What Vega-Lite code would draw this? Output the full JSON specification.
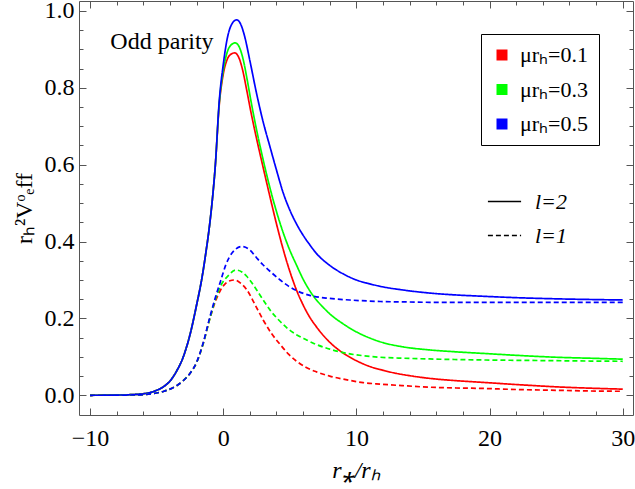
{
  "$schema": "https://vega.github.io/schema/vega-lite/v6.json",
  "width": 554,
  "height": 414,
  "autosize": {"type": "none"},
  "padding": {"left": 79, "top": 1, "right": 2, "bottom": 74},
  "background": "white",
  "config": {
    "font": "Liberation Serif",
    "view": {"stroke": "#555", "strokeWidth": 1},
    "axis": {"domain": false, "grid": false, "tickColor": "#555", "tickWidth": 1, "labelColor": "black", "labelFont": "Liberation Serif", "titleFont": "Liberation Serif", "titleColor": "black", "titleFontWeight": "normal"}
  },
  "datasets": {
    "curves": [
      {"m":"0.1","l":"2","x":-10,"y":0},{"m":"0.1","l":"2","x":-9,"y":0.0002},{"m":"0.1","l":"2","x":-8,"y":0.0006},{"m":"0.1","l":"2","x":-7,"y":0.0015},{"m":"0.1","l":"2","x":-6,"y":0.004},{"m":"0.1","l":"2","x":-5.5,"y":0.007},{"m":"0.1","l":"2","x":-5,"y":0.013},{"m":"0.1","l":"2","x":-4.5,"y":0.022},{"m":"0.1","l":"2","x":-4,"y":0.037},{"m":"0.1","l":"2","x":-3.5,"y":0.063},{"m":"0.1","l":"2","x":-3,"y":0.1},{"m":"0.1","l":"2","x":-2.5,"y":0.157},{"m":"0.1","l":"2","x":-2,"y":0.235},{"m":"0.1","l":"2","x":-1.6,"y":0.305},{"m":"0.1","l":"2","x":-1.3,"y":0.372},{"m":"0.1","l":"2","x":-1,"y":0.45},{"m":"0.1","l":"2","x":-0.8,"y":0.515},{"m":"0.1","l":"2","x":-0.6,"y":0.595},
      {"m":"0.1","l":"2","x":-0.3,"y":0.755},{"m":"0.1","l":"2","x":0,"y":0.835},{"m":"0.1","l":"2","x":0.3,"y":0.874},{"m":"0.1","l":"2","x":0.6,"y":0.888},{"m":"0.1","l":"2","x":0.85,"y":0.891},{"m":"0.1","l":"2","x":1.15,"y":0.8805},{"m":"0.1","l":"2","x":1.45,"y":0.8475},{"m":"0.1","l":"2","x":1.75,"y":0.7965},{"m":"0.1","l":"2","x":2.1,"y":0.7335},{"m":"0.1","l":"2","x":2.5,"y":0.6685},{"m":"0.1","l":"2","x":3,"y":0.5925},{"m":"0.1","l":"2","x":3.5,"y":0.518},{"m":"0.1","l":"2","x":4,"y":0.446},{"m":"0.1","l":"2","x":4.5,"y":0.38},{"m":"0.1","l":"2","x":5,"y":0.3225},{"m":"0.1","l":"2","x":5.5,"y":0.274},{"m":"0.1","l":"2","x":6,"y":0.235},{"m":"0.1","l":"2","x":6.5,"y":0.203},{"m":"0.1","l":"2","x":7,"y":0.178},{"m":"0.1","l":"2","x":8,"y":0.138},{"m":"0.1","l":"2","x":9,"y":0.11},{"m":"0.1","l":"2","x":10,"y":0.09},{"m":"0.1","l":"2","x":11,"y":0.075},{"m":"0.1","l":"2","x":12,"y":0.065},{"m":"0.1","l":"2","x":13,"y":0.057},{"m":"0.1","l":"2","x":14,"y":0.051},{"m":"0.1","l":"2","x":15.5,"y":0.044},{"m":"0.1","l":"2","x":17.5,"y":0.038},{"m":"0.1","l":"2","x":19.3,"y":0.034},{"m":"0.1","l":"2","x":22,"y":0.028},{"m":"0.1","l":"2","x":25,"y":0.022},{"m":"0.1","l":"2","x":28,"y":0.018},{"m":"0.1","l":"2","x":30,"y":0.016},

      {"m":"0.3","l":"2","x":-10,"y":0},{"m":"0.3","l":"2","x":-9,"y":0.0002},{"m":"0.3","l":"2","x":-8,"y":0.0006},{"m":"0.3","l":"2","x":-7,"y":0.0015},{"m":"0.3","l":"2","x":-6,"y":0.004},{"m":"0.3","l":"2","x":-5.5,"y":0.007},{"m":"0.3","l":"2","x":-5,"y":0.013},{"m":"0.3","l":"2","x":-4.5,"y":0.022},{"m":"0.3","l":"2","x":-4,"y":0.037},{"m":"0.3","l":"2","x":-3.5,"y":0.063},{"m":"0.3","l":"2","x":-3,"y":0.1},{"m":"0.3","l":"2","x":-2.5,"y":0.157},{"m":"0.3","l":"2","x":-2,"y":0.235},{"m":"0.3","l":"2","x":-1.6,"y":0.305},{"m":"0.3","l":"2","x":-1.3,"y":0.372},{"m":"0.3","l":"2","x":-1,"y":0.45},{"m":"0.3","l":"2","x":-0.8,"y":0.515},{"m":"0.3","l":"2","x":-0.6,"y":0.595},
      {"m":"0.3","l":"2","x":-0.3,"y":0.76},{"m":"0.3","l":"2","x":0,"y":0.845},{"m":"0.3","l":"2","x":0.3,"y":0.893},{"m":"0.3","l":"2","x":0.6,"y":0.912},{"m":"0.3","l":"2","x":0.9,"y":0.917},{"m":"0.3","l":"2","x":1.2,"y":0.9065},{"m":"0.3","l":"2","x":1.5,"y":0.8735},{"m":"0.3","l":"2","x":1.8,"y":0.821},{"m":"0.3","l":"2","x":2.1,"y":0.7625},{"m":"0.3","l":"2","x":2.5,"y":0.6915},{"m":"0.3","l":"2","x":3,"y":0.6125},{"m":"0.3","l":"2","x":3.5,"y":0.541},{"m":"0.3","l":"2","x":4,"y":0.478},{"m":"0.3","l":"2","x":4.5,"y":0.4235},{"m":"0.3","l":"2","x":5,"y":0.3775},{"m":"0.3","l":"2","x":5.5,"y":0.339},{"m":"0.3","l":"2","x":6,"y":0.302},{"m":"0.3","l":"2","x":6.5,"y":0.272},{"m":"0.3","l":"2","x":7,"y":0.248},{"m":"0.3","l":"2","x":7.5,"y":0.229},{"m":"0.3","l":"2","x":8,"y":0.212},{"m":"0.3","l":"2","x":9,"y":0.186},{"m":"0.3","l":"2","x":10,"y":0.165},{"m":"0.3","l":"2","x":11,"y":0.149},{"m":"0.3","l":"2","x":12,"y":0.137},{"m":"0.3","l":"2","x":13.5,"y":0.126},{"m":"0.3","l":"2","x":15.5,"y":0.118},{"m":"0.3","l":"2","x":17.5,"y":0.113},{"m":"0.3","l":"2","x":19.5,"y":0.109},{"m":"0.3","l":"2","x":22,"y":0.104},{"m":"0.3","l":"2","x":25,"y":0.099},{"m":"0.3","l":"2","x":28,"y":0.096},{"m":"0.3","l":"2","x":30,"y":0.094},

      {"m":"0.5","l":"2","x":-10,"y":0},{"m":"0.5","l":"2","x":-9,"y":0.0002},{"m":"0.5","l":"2","x":-8,"y":0.0006},{"m":"0.5","l":"2","x":-7,"y":0.0015},{"m":"0.5","l":"2","x":-6,"y":0.004},{"m":"0.5","l":"2","x":-5.5,"y":0.007},{"m":"0.5","l":"2","x":-5,"y":0.013},{"m":"0.5","l":"2","x":-4.5,"y":0.022},{"m":"0.5","l":"2","x":-4,"y":0.037},{"m":"0.5","l":"2","x":-3.5,"y":0.063},{"m":"0.5","l":"2","x":-3,"y":0.1},{"m":"0.5","l":"2","x":-2.5,"y":0.157},{"m":"0.5","l":"2","x":-2,"y":0.235},{"m":"0.5","l":"2","x":-1.6,"y":0.305},{"m":"0.5","l":"2","x":-1.3,"y":0.372},{"m":"0.5","l":"2","x":-1,"y":0.45},{"m":"0.5","l":"2","x":-0.8,"y":0.515},{"m":"0.5","l":"2","x":-0.6,"y":0.595},
      {"m":"0.5","l":"2","x":-0.3,"y":0.765},{"m":"0.5","l":"2","x":0,"y":0.86},{"m":"0.5","l":"2","x":0.3,"y":0.928},{"m":"0.5","l":"2","x":0.6,"y":0.963},{"m":"0.5","l":"2","x":1,"y":0.977},{"m":"0.5","l":"2","x":1.3,"y":0.9665},{"m":"0.5","l":"2","x":1.6,"y":0.935},{"m":"0.5","l":"2","x":2,"y":0.871},{"m":"0.5","l":"2","x":2.5,"y":0.786},{"m":"0.5","l":"2","x":3,"y":0.711},{"m":"0.5","l":"2","x":3.5,"y":0.648},{"m":"0.5","l":"2","x":4,"y":0.586},{"m":"0.5","l":"2","x":4.5,"y":0.527},{"m":"0.5","l":"2","x":5,"y":0.482},{"m":"0.5","l":"2","x":5.5,"y":0.446},{"m":"0.5","l":"2","x":6,"y":0.4165},{"m":"0.5","l":"2","x":6.5,"y":0.3915},{"m":"0.5","l":"2","x":7,"y":0.369},{"m":"0.5","l":"2","x":8,"y":0.338},{"m":"0.5","l":"2","x":9,"y":0.316},{"m":"0.5","l":"2","x":10,"y":0.3},{"m":"0.5","l":"2","x":11,"y":0.29},{"m":"0.5","l":"2","x":12,"y":0.282},{"m":"0.5","l":"2","x":13.5,"y":0.274},{"m":"0.5","l":"2","x":15.5,"y":0.266},{"m":"0.5","l":"2","x":17.5,"y":0.261},{"m":"0.5","l":"2","x":19.3,"y":0.258},{"m":"0.5","l":"2","x":22,"y":0.254},{"m":"0.5","l":"2","x":25,"y":0.251},{"m":"0.5","l":"2","x":28,"y":0.249},{"m":"0.5","l":"2","x":30,"y":0.248},

      {"m":"0.1","l":"1","x":-10,"y":0},{"m":"0.1","l":"1","x":-9,"y":0.0001},{"m":"0.1","l":"1","x":-8,"y":0.0003},{"m":"0.1","l":"1","x":-7,"y":0.0008},{"m":"0.1","l":"1","x":-6,"y":0.002},{"m":"0.1","l":"1","x":-5,"y":0.006},{"m":"0.1","l":"1","x":-4.5,"y":0.01},{"m":"0.1","l":"1","x":-4,"y":0.016},{"m":"0.1","l":"1","x":-3.5,"y":0.025},{"m":"0.1","l":"1","x":-3,"y":0.038},{"m":"0.1","l":"1","x":-2.5,"y":0.057},{"m":"0.1","l":"1","x":-2,"y":0.085},{"m":"0.1","l":"1","x":-1.5,"y":0.135},{"m":"0.1","l":"1","x":-1,"y":0.2},
      {"m":"0.1","l":"1","x":-0.6,"y":0.243},{"m":"0.1","l":"1","x":-0.2,"y":0.274},{"m":"0.1","l":"1","x":0.2,"y":0.292},{"m":"0.1","l":"1","x":0.5,"y":0.298},{"m":"0.1","l":"1","x":0.85,"y":0.3},{"m":"0.1","l":"1","x":1.3,"y":0.292},{"m":"0.1","l":"1","x":1.78,"y":0.274},{"m":"0.1","l":"1","x":2.4,"y":0.235},{"m":"0.1","l":"1","x":3,"y":0.196},{"m":"0.1","l":"1","x":3.6,"y":0.162},{"m":"0.1","l":"1","x":4.28,"y":0.132},{"m":"0.1","l":"1","x":4.9,"y":0.107},{"m":"0.1","l":"1","x":5.53,"y":0.088},{"m":"0.1","l":"1","x":6.2,"y":0.073},{"m":"0.1","l":"1","x":7,"y":0.061},{"m":"0.1","l":"1","x":8,"y":0.05},{"m":"0.1","l":"1","x":9.3,"y":0.04},{"m":"0.1","l":"1","x":10.5,"y":0.033},{"m":"0.1","l":"1","x":11.8,"y":0.029},{"m":"0.1","l":"1","x":13.5,"y":0.025},{"m":"0.1","l":"1","x":15.5,"y":0.021},{"m":"0.1","l":"1","x":17.5,"y":0.019},{"m":"0.1","l":"1","x":19.3,"y":0.018},{"m":"0.1","l":"1","x":22,"y":0.015},{"m":"0.1","l":"1","x":25,"y":0.013},{"m":"0.1","l":"1","x":28,"y":0.011},{"m":"0.1","l":"1","x":30,"y":0.0104},

      {"m":"0.3","l":"1","x":-10,"y":0},{"m":"0.3","l":"1","x":-9,"y":0.0001},{"m":"0.3","l":"1","x":-8,"y":0.0003},{"m":"0.3","l":"1","x":-7,"y":0.0008},{"m":"0.3","l":"1","x":-6,"y":0.002},{"m":"0.3","l":"1","x":-5,"y":0.006},{"m":"0.3","l":"1","x":-4.5,"y":0.01},{"m":"0.3","l":"1","x":-4,"y":0.016},{"m":"0.3","l":"1","x":-3.5,"y":0.025},{"m":"0.3","l":"1","x":-3,"y":0.038},{"m":"0.3","l":"1","x":-2.5,"y":0.057},{"m":"0.3","l":"1","x":-2,"y":0.085},{"m":"0.3","l":"1","x":-1.5,"y":0.135},{"m":"0.3","l":"1","x":-1,"y":0.2},
      {"m":"0.3","l":"1","x":-0.6,"y":0.248},{"m":"0.3","l":"1","x":-0.2,"y":0.284},{"m":"0.3","l":"1","x":0.4,"y":0.312},{"m":"0.3","l":"1","x":0.95,"y":0.326},{"m":"0.3","l":"1","x":1.4,"y":0.321},{"m":"0.3","l":"1","x":1.78,"y":0.309},{"m":"0.3","l":"1","x":2.4,"y":0.28},{"m":"0.3","l":"1","x":3,"y":0.248},{"m":"0.3","l":"1","x":3.6,"y":0.218},{"m":"0.3","l":"1","x":4.28,"y":0.192},{"m":"0.3","l":"1","x":4.9,"y":0.172},{"m":"0.3","l":"1","x":5.53,"y":0.157},{"m":"0.3","l":"1","x":6.2,"y":0.145},{"m":"0.3","l":"1","x":6.8,"y":0.135},{"m":"0.3","l":"1","x":8,"y":0.12},{"m":"0.3","l":"1","x":9.3,"y":0.109},{"m":"0.3","l":"1","x":10.5,"y":0.103},{"m":"0.3","l":"1","x":11.8,"y":0.099},{"m":"0.3","l":"1","x":13.5,"y":0.0965},{"m":"0.3","l":"1","x":15.5,"y":0.0945},{"m":"0.3","l":"1","x":19.3,"y":0.092},{"m":"0.3","l":"1","x":22,"y":0.091},{"m":"0.3","l":"1","x":25,"y":0.09},{"m":"0.3","l":"1","x":28,"y":0.089},{"m":"0.3","l":"1","x":30,"y":0.0885},

      {"m":"0.5","l":"1","x":-10,"y":0},{"m":"0.5","l":"1","x":-9,"y":0.0001},{"m":"0.5","l":"1","x":-8,"y":0.0003},{"m":"0.5","l":"1","x":-7,"y":0.0008},{"m":"0.5","l":"1","x":-6,"y":0.002},{"m":"0.5","l":"1","x":-5,"y":0.006},{"m":"0.5","l":"1","x":-4.5,"y":0.01},{"m":"0.5","l":"1","x":-4,"y":0.016},{"m":"0.5","l":"1","x":-3.5,"y":0.025},{"m":"0.5","l":"1","x":-3,"y":0.038},{"m":"0.5","l":"1","x":-2.5,"y":0.057},{"m":"0.5","l":"1","x":-2,"y":0.086},{"m":"0.5","l":"1","x":-1.5,"y":0.137},{"m":"0.5","l":"1","x":-1,"y":0.204},
      {"m":"0.5","l":"1","x":-0.6,"y":0.253},{"m":"0.5","l":"1","x":-0.2,"y":0.297},{"m":"0.5","l":"1","x":0.2,"y":0.34},{"m":"0.5","l":"1","x":0.7,"y":0.372},{"m":"0.5","l":"1","x":1.4,"y":0.387},{"m":"0.5","l":"1","x":2,"y":0.378},{"m":"0.5","l":"1","x":2.5,"y":0.358},{"m":"0.5","l":"1","x":3,"y":0.339},{"m":"0.5","l":"1","x":3.6,"y":0.32},{"m":"0.5","l":"1","x":4.28,"y":0.3},{"m":"0.5","l":"1","x":4.9,"y":0.284},{"m":"0.5","l":"1","x":5.53,"y":0.272},{"m":"0.5","l":"1","x":6.5,"y":0.26},{"m":"0.5","l":"1","x":8,"y":0.252},{"m":"0.5","l":"1","x":9.5,"y":0.248},{"m":"0.5","l":"1","x":11.8,"y":0.244},{"m":"0.5","l":"1","x":13.5,"y":0.243},{"m":"0.5","l":"1","x":15.5,"y":0.242},{"m":"0.5","l":"1","x":19.3,"y":0.242},{"m":"0.5","l":"1","x":22,"y":0.242},{"m":"0.5","l":"1","x":25,"y":0.242},{"m":"0.5","l":"1","x":28,"y":0.242},{"m":"0.5","l":"1","x":30,"y":0.242}
    ],
    "anchor": [{"x": 0, "y": 0}],
    "note": [{"label": "Odd parity", "x": -8.48, "y": 0.901}]
  },
  "layer": [
    {
      "data": {"name": "curves"},
      "mark": {"type": "line", "interpolate": "monotone", "strokeWidth": 1.7},
      "encoding": {
        "x": {"field": "x", "type": "quantitative",
          "scale": {"domain": [-10.83, 30.77], "nice": false, "zero": false},
          "axis": {"orient": "bottom", "values": [-10, 0, 10, 20, 30], "tickSize": -7, "labelFontSize": 24, "labelPadding": 18, "labelFlush": false, "labelOverlap": false,
            "title": "r⁎/rₕ", "titleFontSize": 24, "titleFontStyle": "italic", "titlePadding": 8}},
        "y": {"field": "y", "type": "quantitative",
          "scale": {"domain": [-0.0513, 1.026], "nice": false, "zero": false},
          "axis": {"orient": "left", "values": [0, 0.2, 0.4, 0.6, 0.8, 1.0], "format": ".1f", "tickSize": -7, "labelFontSize": 24, "labelPadding": 12, "labelFlush": false, "labelOverlap": false,
            "title": "rₕ²Vᵒₑff", "titleFontSize": 24, "titlePadding": 8}},
        "color": {"field": "m", "type": "nominal",
          "scale": {"domain": ["0.1", "0.3", "0.5"], "range": ["#ff0000", "#00ff00", "#0000ff"]},
          "legend": {"orient": "none", "legendX": 402, "legendY": 33, "title": null, "labelExpr": "'μrₕ=' + datum.label",
            "symbolType": "square", "symbolSize": 121, "symbolStrokeWidth": 0, "labelFontSize": 22, "labelFont": "Liberation Serif", "labelOffset": 7, "rowPadding": 12.5,
            "strokeColor": "black", "fillColor": "white", "padding": 10, "cornerRadius": 0,
            "encode": {"symbols": {"update": {"fill": {"scale": "color", "field": "value"}, "fillOpacity": {"value": 1}, "stroke": {"value": "transparent"}}}}}},
        "strokeDash": {"field": "l", "type": "nominal",
          "scale": {"domain": ["2", "1"], "range": [[1, 0], [5, 3]]},
          "legend": {"orient": "none", "legendX": 408, "legendY": 183, "title": null, "labelExpr": "'l=' + datum.label",
            "symbolType": "stroke", "symbolSize": 1100, "symbolStrokeColor": "black", "symbolStrokeWidth": 1.5, "labelFontSize": 22, "labelFont": "Liberation Serif", "labelFontStyle": "italic", "labelOffset": 13, "rowPadding": 5, "padding": 0}}
      }
    },
    {
      "data": {"name": "note"},
      "mark": {"type": "text", "align": "left", "baseline": "alphabetic", "fontSize": 24, "font": "Liberation Serif", "color": "black"},
      "encoding": {
        "x": {"field": "x", "type": "quantitative", "scale": {"domain": [-10.83, 30.77], "nice": false, "zero": false}, "axis": null},
        "y": {"field": "y", "type": "quantitative", "scale": {"domain": [-0.0513, 1.026], "nice": false, "zero": false}, "axis": null},
        "text": {"field": "label"}
      }
    },
    {
      "data": {"name": "anchor"},
      "mark": {"type": "point", "opacity": 0},
      "encoding": {
        "x": {"field": "x", "type": "quantitative", "scale": {"domain": [-10.83, 30.77], "nice": false, "zero": false},
          "axis": {"orient": "bottom", "values": [-8, -6, -4, -2, 2, 4, 6, 8, 12, 14, 16, 18, 22, 24, 26, 28], "tickSize": -4, "labels": false, "title": null}},
        "y": {"field": "y", "type": "quantitative", "scale": {"domain": [-0.0513, 1.026], "nice": false, "zero": false},
          "axis": {"orient": "left", "values": [0.05, 0.1, 0.15, 0.25, 0.3, 0.35, 0.45, 0.5, 0.55, 0.65, 0.7, 0.75, 0.85, 0.9, 0.95], "tickSize": -4, "labels": false, "title": null}}
      }
    },
    {
      "data": {"name": "anchor"},
      "mark": {"type": "point", "opacity": 0},
      "encoding": {
        "x": {"field": "x", "type": "quantitative", "scale": {"domain": [-10.83, 30.77], "nice": false, "zero": false},
          "axis": {"orient": "top", "values": [-10, 0, 10, 20, 30], "tickSize": -7, "labels": false, "title": null}},
        "y": {"field": "y", "type": "quantitative", "scale": {"domain": [-0.0513, 1.026], "nice": false, "zero": false},
          "axis": {"orient": "right", "values": [0, 0.2, 0.4, 0.6, 0.8, 1.0], "tickSize": -7, "labels": false, "title": null}}
      }
    },
    {
      "data": {"name": "anchor"},
      "mark": {"type": "point", "opacity": 0},
      "encoding": {
        "x": {"field": "x", "type": "quantitative", "scale": {"domain": [-10.83, 30.77], "nice": false, "zero": false},
          "axis": {"orient": "top", "values": [-8, -6, -4, -2, 2, 4, 6, 8, 12, 14, 16, 18, 22, 24, 26, 28], "tickSize": -4, "labels": false, "title": null}},
        "y": {"field": "y", "type": "quantitative", "scale": {"domain": [-0.0513, 1.026], "nice": false, "zero": false},
          "axis": {"orient": "right", "values": [0.05, 0.1, 0.15, 0.25, 0.3, 0.35, 0.45, 0.5, 0.55, 0.65, 0.7, 0.75, 0.85, 0.9, 0.95], "tickSize": -4, "labels": false, "title": null}}
      }
    }
  ],
  "resolve": {"axis": {"x": "independent", "y": "independent"}}
}
